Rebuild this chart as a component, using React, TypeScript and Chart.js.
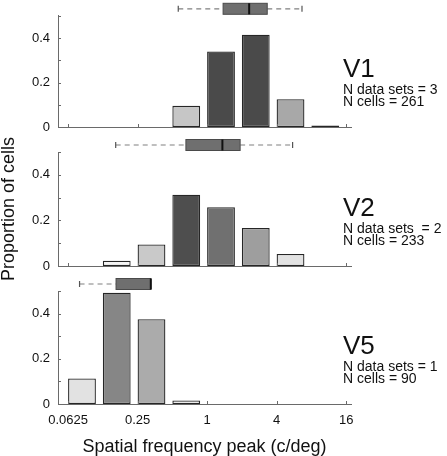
import React, { useEffect, useRef } from "react";
import { Chart, registerables } from "chart.js";

Chart.register(...registerables);

const FONT = '"Liberation Sans", Arial, Helvetica, sans-serif';

// x axis is log2 of spatial frequency (c/deg)
const xTickValues = [-4, -2, 0, 2, 4];
const xTickLabels = ["0.0625", "0.25", "1", "4", "16"];
const yLabelledTicks = [0, 0.2, 0.4];

// Histogram bins: lower edge of each one-octave bin, in log2 units
const v1BinStarts = [-1, 0, 1, 2, 3];
const v1Proportions = [0.095, 0.34, 0.415, 0.125, 0.007];
const v1Colors = ["#c6c6c6", "#4a4a4a", "#4a4a4a", "#a8a8a8", "#3c3c3c"];

const v2BinStarts = [-3, -2, -1, 0, 1, 2];
const v2Proportions = [0.023, 0.094, 0.313, 0.258, 0.167, 0.053];
const v2Colors = ["#f4f4f4", "#c9c9c9", "#4e4e4e", "#707070", "#9e9e9e", "#e2e2e2"];

const v5BinStarts = [-4, -3, -2, -1];
const v5Proportions = [0.113, 0.492, 0.375, 0.016];
const v5Colors = ["#e2e2e2", "#868686", "#ababab", "#f8f8f8"];

// Box plots (log2 units): [whisker low, q1, median, q3, whisker high]
const v1Box = [-0.83, 0.46, 1.21, 1.73, 2.73];
const v2Box = [-2.63, -0.61, 0.44, 0.95, 2.46];
const v5Box = [-3.67, -2.62, -1.62, -1.62, -1.62];

const areaNames = ["V1", "V2", "V5"];
const dataSetLabels = ["N data sets = 3", "N data sets  = 2", "N data sets = 1"];
const cellLabels = ["N cells = 261", "N cells = 233", "N cells = 90"];

type PanelProps = {
  top: number;
  height: number;
  padTop: number;
  padBottom: number;
  xHeight: number;
  binStarts: number[];
  values: number[];
  colors: string[];
  box: number[];
  idx: number;
  showX: boolean;
  showYTitle: boolean;
};

function Panel(p: PanelProps) {
  const ref = useRef<HTMLCanvasElement>(null);
  useEffect(() => {
    const canvas = ref.current!;
    const extras = {
      id: "extras",
      afterDraw(chart: any) {
        const { ctx, chartArea, scales } = chart;
        const xs = scales.x;
        const ys = scales.y;
        ctx.save();
        // inward tick marks
        ctx.strokeStyle = "#6a6a6a";
        ctx.lineWidth = 1;
        ctx.beginPath();
        xTickValues.forEach((v) => {
          const px = Math.round(xs.getPixelForValue(v)) + 0.5;
          ctx.moveTo(px, chartArea.bottom);
          ctx.lineTo(px, chartArea.bottom - 3);
        });
        for (let i = 0; i <= 5; i++) {
          const py = Math.round(ys.getPixelForValue(i / 10)) + 0.5;
          ctx.moveTo(chartArea.left, py);
          ctx.lineTo(chartArea.left + 3, py);
        }
        ctx.stroke();

        // box plot
        const [lo, q1, med, q3, hi] = p.box.map((v) => xs.getPixelForValue(v));
        const cy = chartArea.top - 7;
        const h = 11;
        ctx.setLineDash([5, 4]);
        ctx.strokeStyle = "#808080";
        ctx.lineWidth = 1.2;
        ctx.beginPath();
        ctx.moveTo(lo, cy);
        ctx.lineTo(q1, cy);
        if (hi > q3 + 1) {
          ctx.moveTo(q3, cy);
          ctx.lineTo(hi, cy);
        }
        ctx.stroke();
        ctx.setLineDash([]);
        ctx.strokeStyle = "#555";
        ctx.beginPath();
        ctx.moveTo(lo, cy - 3);
        ctx.lineTo(lo, cy + 3);
        if (hi > q3 + 1) {
          ctx.moveTo(hi, cy - 3);
          ctx.lineTo(hi, cy + 3);
        }
        ctx.stroke();
        ctx.fillStyle = "#6f6f6f";
        ctx.fillRect(q1, cy - h / 2, q3 - q1, h);
        ctx.strokeStyle = "#4a4a4a";
        ctx.lineWidth = 1;
        ctx.strokeRect(q1, cy - h / 2, q3 - q1, h);
        ctx.strokeStyle = "#111";
        ctx.lineWidth = 2;
        ctx.beginPath();
        ctx.moveTo(med, cy - h / 2);
        ctx.lineTo(med, cy + h / 2);
        ctx.stroke();

        // annotations
        const y0 = ys.getPixelForValue(0);
        const tx = chartArea.right - 8;
        ctx.fillStyle = "#111";
        ctx.textAlign = "left";
        ctx.textBaseline = "alphabetic";
        ctx.font = `26px ${FONT}`;
        ctx.fillText(areaNames[p.idx], tx, y0 - 50);
        ctx.font = `14px ${FONT}`;
        ctx.fillText(dataSetLabels[p.idx], tx, y0 - 33);
        ctx.fillText(cellLabels[p.idx], tx, y0 - 21);
        ctx.restore();
      },
    };

    const chart = new Chart(canvas, {
      type: "bar",
      data: {
        datasets: [
          {
            data: p.binStarts.map((b, i) => ({ x: b + 0.4, y: p.values[i] })),
            backgroundColor: p.colors,
            borderColor: "#262626",
            borderWidth: 1.3,
            borderSkipped: false,
            barPercentage: 0.8,
            categoryPercentage: 1,
          } as any,
        ],
      },
      options: {
        responsive: false,
        animation: false,
        events: [],
        layout: { padding: { left: 0, right: 96, top: p.padTop, bottom: p.padBottom } },
        plugins: { legend: { display: false }, tooltip: { enabled: false } },
        scales: {
          x: {
            type: "linear",
            offset: false,
            min: -4.29,
            max: 4.14,
            grid: { display: false, drawTicks: false, offset: false },
            border: { color: "#6a6a6a", width: 1 },
            afterBuildTicks: (s: any) => {
              s.ticks = xTickValues.map((v) => ({ value: v }));
            },
            afterFit: (s: any) => {
              s.height = p.xHeight;
            },
            ticks: {
              display: p.showX,
              padding: 9,
              color: "#111",
              autoSkip: false,
              maxRotation: 0,
              font: { size: 13, family: FONT },
              callback: (v: any) => {
                const k = xTickValues.indexOf(Number(v));
                return k >= 0 ? xTickLabels[k] : "";
              },
            },
            title: {
              display: p.showX,
              text: "Spatial frequency peak (c/deg)",
              color: "#111",
              font: { size: 18, family: FONT },
              padding: { top: 0, bottom: -2 },
            },
          },
          y: {
            min: 0,
            max: 0.5,
            grid: { display: false, drawTicks: false },
            border: { color: "#6a6a6a", width: 1 },
            afterFit: (s: any) => {
              s.width = 58;
            },
            ticks: {
              stepSize: 0.1,
              padding: 8,
              color: "#111",
              font: { size: 13, family: FONT },
              callback: (v: any) =>
                yLabelledTicks.some((t) => Math.abs(t - Number(v)) < 1e-9)
                  ? String(+Number(v).toFixed(1))
                  : "",
            },
            title: {
              display: p.showYTitle,
              text: "Proportion of cells",
              color: "#111",
              font: { size: 18, family: FONT },
              padding: { top: -2, bottom: 0 },
            },
          },
        },
      } as any,
      plugins: [extras],
    });
    return () => chart.destroy();
  }, []);
  return (
    <canvas
      ref={ref}
      width={447}
      height={p.height}
      style={{ position: "absolute", left: 0, top: p.top, width: 447, height: p.height }}
    />
  );
}

export default function App() {
  return (
    <div style={{ position: "absolute", left: 0, top: 0, width: 447, height: 456, background: "#fff", overflow: "hidden" }}>
      <Panel top={0} height={146} padTop={13} padBottom={19} xHeight={0} binStarts={v1BinStarts} values={v1Proportions} colors={v1Colors} box={v1Box} idx={0} showX={false} showYTitle={false} />
      <Panel top={135} height={150} padTop={17} padBottom={19} xHeight={0} binStarts={v2BinStarts} values={v2Proportions} colors={v2Colors} box={v2Box} idx={1} showX={false} showYTitle={true} />
      <Panel top={271} height={185} padTop={20} padBottom={0} xHeight={52} binStarts={v5BinStarts} values={v5Proportions} colors={v5Colors} box={v5Box} idx={2} showX={true} showYTitle={false} />
    </div>
  );
}
